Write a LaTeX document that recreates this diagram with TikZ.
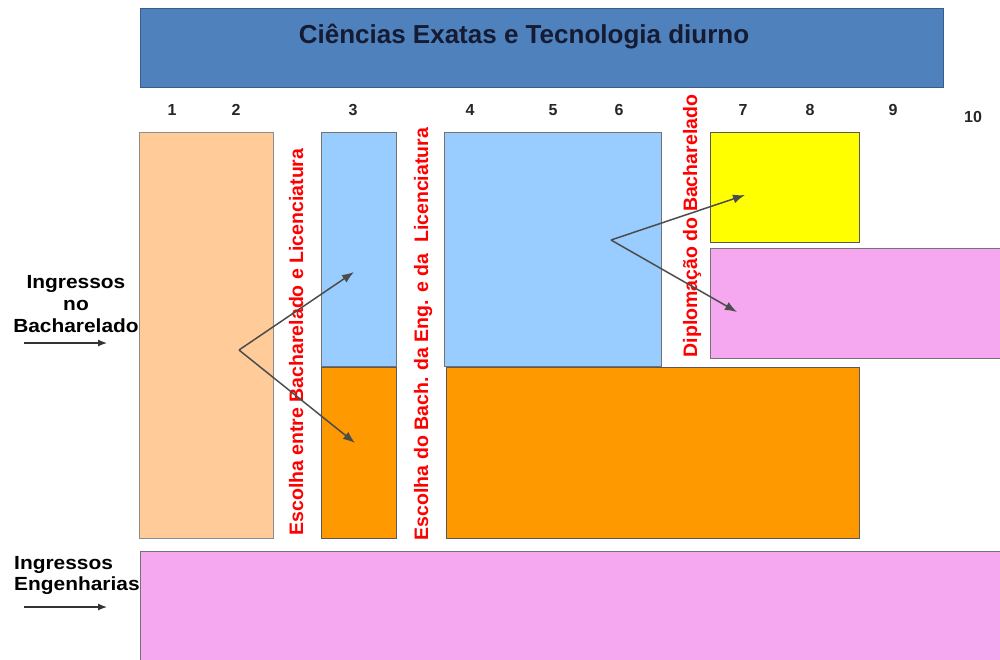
\documentclass[tikz,border=0pt]{standalone}
\usepackage{fontspec}
\setmainfont{Liberation Sans}
\newfontfamily\widesans[FakeStretch=1.1]{Liberation Sans}
\usetikzlibrary{arrows.meta}
\definecolor{titleblue}{HTML}{4F81BD}
\definecolor{titleborder}{HTML}{385D8A}
\definecolor{titletext}{HTML}{141B33}
\definecolor{peach}{HTML}{FFCC99}
\definecolor{lblue}{HTML}{99CCFF}
\definecolor{orng}{HTML}{FF9900}
\definecolor{yell}{HTML}{FFFF00}
\definecolor{pinkb}{HTML}{F5A7EF}
\begin{document}
\begin{tikzpicture}[x=1pt,y=-1pt,
  box/.style={draw=black!55, line width=0.9pt, rectangle, anchor=north west, inner sep=0pt, outer sep=0pt},
  redlbl/.style={text=red, font=\fontsize{19.5}{20}\selectfont\bfseries, rotate=90, inner sep=0pt, anchor=base},
  num/.style={font=\fontsize{16}{16}\selectfont\bfseries, text=black!85, anchor=base, inner sep=0pt},
  lbl/.style={font=\widesans\fontsize{19}{22}\selectfont\bfseries, text=black, inner sep=0pt},
  arr/.style={draw=black!70, line width=1.5pt, -{Latex[length=12pt,width=9pt]}},
  smallarr/.style={draw=black!80, line width=1.2pt, -{Latex[length=9pt,width=7pt]}},
]
\useasboundingbox (0,0) rectangle (1000,659);
% title bar
\node[box, fill=titleblue, draw=titleborder, minimum width=803pt, minimum height=79pt] (title) at (140,8) {};
\node[font=\fontsize{26}{26}\selectfont\bfseries, text=titletext, inner sep=0pt] (titletxt) at (524,37) {Ciências Exatas e Tecnologia diurno};
% numbers
\node[num] (n1) at (172,115) {1};
\node[num] (n2) at (236,115) {2};
\node[num] (n3) at (353,115) {3};
\node[num] (n4) at (470,115) {4};
\node[num] (n5) at (553,115) {5};
\node[num] (n6) at (619,115) {6};
\node[num] (n7) at (743,115) {7};
\node[num] (n8) at (810,115) {8};
\node[num] (n9) at (893,115) {9};
\node[num] (n10) at (973,122) {10};
% boxes
\node[box, fill=peach, draw=black!45, minimum width=134pt, minimum height=406pt] (peachbox) at (139,132) {};
\node[box, fill=lblue, minimum width=75pt, minimum height=234pt] (blue3) at (321,132) {};
\node[box, fill=orng, draw=black!65, minimum width=75pt, minimum height=171pt] (orange3) at (321,367) {};
\node[box, fill=lblue, minimum width=217pt, minimum height=234pt] (blue46) at (444,132) {};
\node[box, fill=orng, draw=black!65, minimum width=413pt, minimum height=171pt] (orange48) at (446,367) {};
\node[box, fill=yell, draw=black!65, minimum width=149pt, minimum height=110pt] (yellow78) at (710,132) {};
\node[box, fill=pinkb, minimum width=295pt, minimum height=110pt] (pink79) at (710,248) {};
\node[box, fill=pinkb, minimum width=865pt, minimum height=115pt] (pinkeng) at (140,551) {};
% red rotated labels
\node[redlbl] (esc1) at (303,342) {Escolha entre Bacharelado e Licenciatura};
\node[redlbl] (esc2) at (428,334) {Escolha do Bach. da Eng. e da\ \ Licenciatura};
\node[redlbl] (dipl) at (697,226) {Diplomação do Bacharelado};
% left labels
\node[lbl, align=center] (ingbach) at (76,304) {Ingressos\\no\\Bacharelado};
\node[lbl, align=left, anchor=north west, font=\widesans\fontsize{19}{21}\selectfont\bfseries] (ingeng) at (14,556) {Ingressos\\Engenharias};
\coordinate (ia1) at (24,343);
\coordinate (ia2) at (107,343);
\draw[smallarr] (ia1) -- (ia2);
\coordinate (ib1) at (24,607);
\coordinate (ib2) at (107,607);
\draw[smallarr] (ib1) -- (ib2);
% choice arrows
\coordinate (s1) at (239,350);
\coordinate (e1a) at (354,272);
\coordinate (e1b) at (355,443);
\draw[arr] (s1) -- (e1a);
\draw[arr] (s1) -- (e1b);
\coordinate (s2) at (611,240);
\coordinate (e2a) at (745,195);
\coordinate (e2b) at (737,312);
\draw[arr] (s2) -- (e2a);
\draw[arr] (s2) -- (e2b);
\end{tikzpicture}
\end{document}
